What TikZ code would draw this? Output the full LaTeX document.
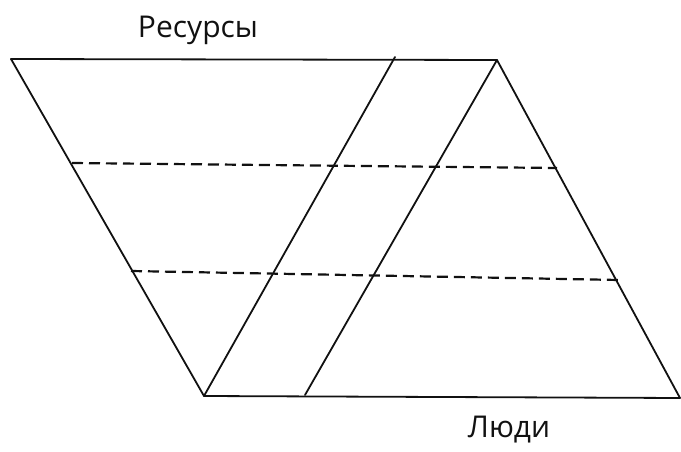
\documentclass[tikz,border=0pt]{standalone}
\usepackage{fontspec}
\setmainfont{Open Sans}
\usetikzlibrary{positioning}
\definecolor{sketchInk}{HTML}{111111}
\tikzset{
  every picture/.style={font=\fontsize{30}{36}\selectfont, text=sketchInk},
  sketch edge/.style={draw=sketchInk, line width=1.8pt, line join=round, line cap=round},
  sketch level/.style={draw=sketchInk, line width=2.2pt, dash pattern=on 11pt off 6pt},
  sketch label/.style={inner sep=0pt, anchor=base}
}
\begin{document}
\begin{tikzpicture}[x=1pt,y=-1pt]
  \useasboundingbox (0,0) rectangle (681,452);
  % outer frame
  \coordinate (TL) at (11,59); \coordinate (TR) at (497,60);
  \coordinate (BL) at (204,396); \coordinate (BR) at (680,398);
  \coordinate (T1) at (395,57); \coordinate (B2) at (305,395);
  \draw[sketch edge] (TL) -- (TR) -- (BR);
  \draw[sketch edge] (TL) -- (BL) -- (BR);
  % inner strips
  \draw[sketch edge] (T1) -- (BL);
  \draw[sketch edge] (TR) -- (B2);
  % levels
  \coordinate (L1a) at (72,163); \coordinate (L1b) at (557,168);
  \coordinate (L2a) at (131,271); \coordinate (L2b) at (619,280);
  \draw[sketch level] (L1a) -- (L1b);
  \draw[sketch level] (L2a) -- (L2b);
  % labels
  \node[sketch label] (res) at (198,38) {Ресурсы};
  \node[sketch label] (people) at (509,437) {Люди};
\end{tikzpicture}
\end{document}
